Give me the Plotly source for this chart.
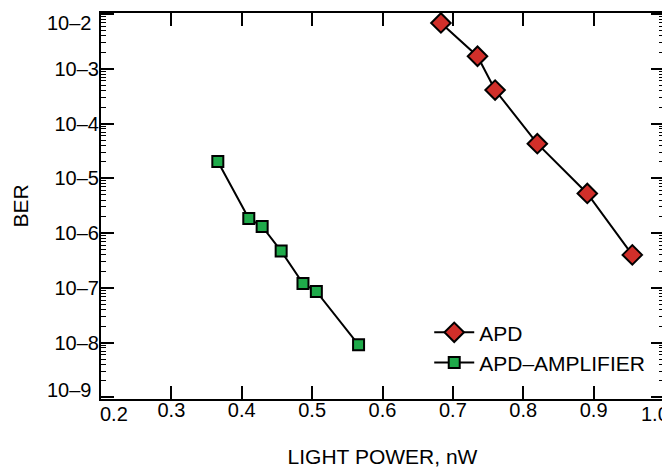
import math
import plotly.graph_objects as go

# Data
apd_power = [0.683, 0.735, 0.760, 0.820, 0.891, 0.955]
apd_ber = [6.9e-3, 1.7e-3, 4.1e-4, 4.3e-5, 5.3e-6, 4.0e-7]

amp_power = [0.366, 0.410, 0.429, 0.456, 0.487, 0.506, 0.566]
amp_ber = [2.04e-5, 1.85e-6, 1.32e-6, 4.7e-7, 1.2e-7, 8.6e-8, 9.1e-9]

y_exponents = [-9, -8, -7, -6, -5, -4, -3, -2]
y_tickvals = [10.0 ** e for e in y_exponents]
y_ticktext = ["10\u2013%d" % (-e) for e in y_exponents]
y_minor = [m * 10.0 ** e for e in y_exponents[:-1] for m in range(2, 10)]

x_tickvals = [0.2, 0.3, 0.4, 0.5, 0.6, 0.7, 0.8, 0.9, 1.0]
x_ticktext = ["%.1f" % v for v in x_tickvals]

FONT = "Liberation Sans, Arial, sans-serif"

fig = go.Figure()
fig.add_trace(go.Scatter(
    x=apd_power, y=apd_ber, name="APD", mode="lines+markers",
    legendgroup="a",
    line=dict(color="black", width=2),
    marker=dict(symbol="diamond", size=15, color="#d12f2a",
                line=dict(color="black", width=2)),
))
fig.add_trace(go.Scatter(
    x=amp_power, y=amp_ber, name="APD\u2013AMPLIFIER", mode="lines+markers",
    legendgroup="b",
    line=dict(color="black", width=2),
    marker=dict(symbol="square", size=11, color="#1faa4a",
                line=dict(color="black", width=2)),
))

# First and last tick labels sit inside the frame in the reference
x_axis_text = [t if v not in (0.2, 1.0) else "" for v, t in zip(x_tickvals, x_ticktext)]
x_edge = [(x_tickvals[0], x_ticktext[0], 13), (x_tickvals[-1], x_ticktext[-1], -9)]
for xv, txt, shift in x_edge:
    fig.add_annotation(x=xv, y=0, xref="x", yref="paper", text=txt,
                       showarrow=False, xanchor="center", yanchor="top",
                       xshift=shift, yshift=-2, font=dict(size=20))

y_axis_text = [t if e not in (-9, -2) else "" for e, t in zip(y_exponents, y_ticktext)]
y_edge = [(y_tickvals[0], y_ticktext[0], 7), (y_tickvals[-1], y_ticktext[-1], -9)]
for yv, txt, shift in y_edge:
    fig.add_annotation(x=0, y=math.log10(yv), xref="paper", yref="y", text=txt,
                       showarrow=False, xanchor="right", yanchor="middle",
                       xshift=-7, yshift=shift, font=dict(size=20))

fig.update_layout(
    width=662, height=463,
    margin=dict(l=93, r=6, t=5, b=72),
    paper_bgcolor="white", plot_bgcolor="white",
    font=dict(family=FONT, size=20, color="black"),
    showlegend=True,
    legend=dict(x=0.583, y=0.225, xanchor="left", yanchor="top",
                bgcolor="rgba(0,0,0,0)", font=dict(size=21),
                tracegroupgap=0, itemwidth=40),
)

fig.update_xaxes(
    range=[0.2, 1.0], tickmode="array", tickvals=x_tickvals,
    ticktext=x_axis_text, ticklabeloverflow="allow", ticklabelstandoff=-8,
    ticks="inside", ticklen=13, tickwidth=1.5, tickcolor="black",
    showline=True, linewidth=2, linecolor="black", mirror="ticks",
    showgrid=False, zeroline=False, automargin=False,
    tickfont=dict(size=20),
    title=dict(text="LIGHT POWER, nW", font=dict(size=21), standoff=29),
)
fig.update_yaxes(
    type="log", range=[-9.03, -1.98],
    tickmode="array", tickvals=y_tickvals, ticktext=y_axis_text,
    ticklabeloverflow="allow", ticklabelstandoff=-4,
    ticks="inside", ticklen=13, tickwidth=1.5, tickcolor="black",
    minor=dict(tickmode="array", tickvals=y_minor, ticks="inside",
               ticklen=5, tickwidth=1, tickcolor="black", showgrid=False),
    showline=True, linewidth=2, linecolor="black", mirror="ticks",
    showgrid=False, zeroline=False, automargin=False,
    tickfont=dict(size=20),
    title=dict(text="BER", font=dict(size=21), standoff=20),
)

fig.write_html("out.html")
